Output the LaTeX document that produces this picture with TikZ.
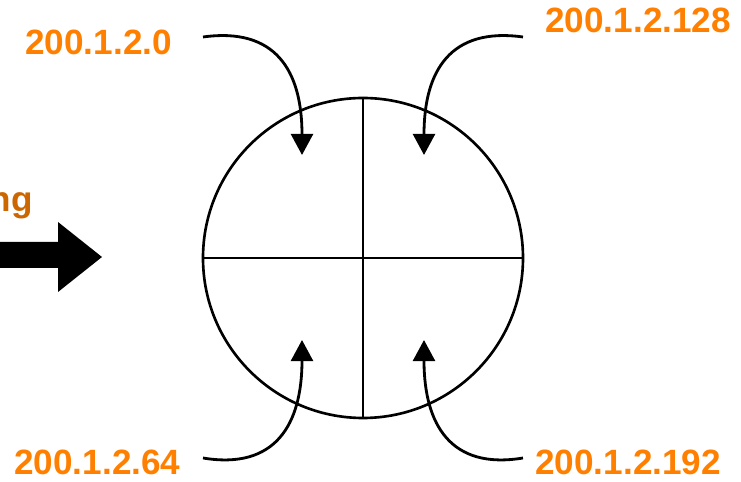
\documentclass[tikz,border=0pt]{standalone}
\usepackage{fontspec}
\setmainfont{Liberation Sans}
\usepackage{tikz}
\usetikzlibrary{positioning, arrows.meta, calc}
\definecolor{myOrange}{HTML}{FF8000}
\definecolor{myBrown}{HTML}{CC6600}

\begin{document}
\begin{tikzpicture}[
  x=0.02cm, y=-0.02cm,
  lbl/.style={font=\fontsize{20}{24}\selectfont\bfseries, text=myOrange, inner sep=0pt, anchor=base west},
  curvy/.style={line width=1.6pt, -{Triangle[length=12pt, width=12.5pt]}},
]
  \useasboundingbox (0,0) rectangle (741,482);

  % the block, cut in four
  \node[circle, draw, line width=1.5pt, minimum size=320*0.02cm, inner sep=0pt] (blk) at (363,258) {};
  \draw[line width=1.5pt] (blk.north) -- (blk.south);
  \draw[line width=1.5pt] (blk.west) -- (blk.east);

  % big arrow on the left
  \node[lbl, text=myBrown, anchor=base east] (ng) at (33,212) {ng};
  \fill (0,242) -- (58,242) -- (58,222) -- (102,257) -- (58,292) -- (58,268) -- (0,268) -- cycle;

  % addresses
  \node[lbl] (a0)   at (25,55)  {200.1.2.0};
  \node[lbl] (a128) at (545,33) {200.1.2.128};
  \node[lbl] (a64)  at (14,475) {200.1.2.64};
  \node[lbl] (a192) at (535,475) {200.1.2.192};

  \coordinate (s0)   at (203,37);   \coordinate (t0)   at (302,155);
  \coordinate (s128) at (523,37);   \coordinate (t128) at (424,155);
  \coordinate (s64)  at (203,458);  \coordinate (t64)  at (302,340);
  \coordinate (s192) at (523,458);  \coordinate (t192) at (424,340);

  \draw[curvy] (s0) .. controls (275,27) and (302,70) .. (t0);
  \draw[curvy] (s128) .. controls (451,27) and (424,70) .. (t128);
  \draw[curvy] (s64) .. controls (275,470) and (302,425) .. (t64);
  \draw[curvy] (s192) .. controls (451,470) and (424,425) .. (t192);
\end{tikzpicture}
\end{document}
